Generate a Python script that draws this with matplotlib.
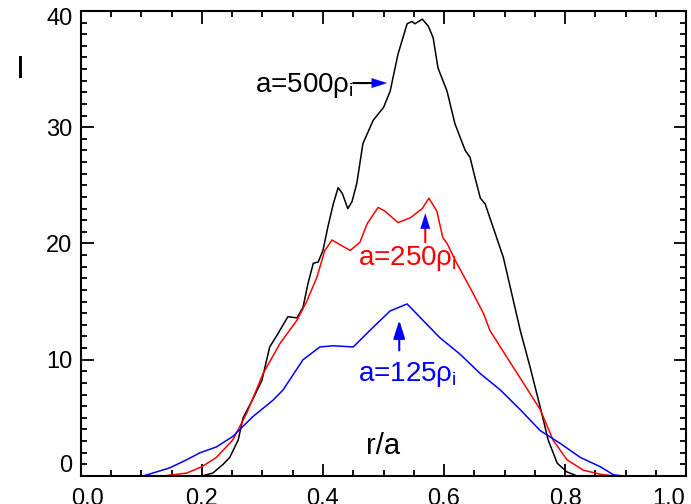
import matplotlib
matplotlib.use("Agg")
import matplotlib.pyplot as plt
from matplotlib.ticker import MultipleLocator
from matplotlib.transforms import offset_copy

plt.rcParams['font.family'] = ['Liberation Sans', 'DejaVu Sans']
plt.rcParams['mathtext.fontset'] = 'custom'
plt.rcParams['mathtext.rm'] = 'Liberation Sans'
plt.rcParams['mathtext.it'] = 'Liberation Sans:italic'

# a = 500 rho_i
x500 = [0.20, 0.218, 0.235, 0.246, 0.26, 0.268, 0.283, 0.299, 0.312, 0.324, 0.342, 0.357,
        0.367, 0.375, 0.384, 0.392, 0.40, 0.408, 0.417, 0.425, 0.432, 0.441, 0.448, 0.456,
        0.466, 0.483, 0.50, 0.511, 0.524, 0.539, 0.547, 0.552, 0.564, 0.574, 0.582, 0.590,
        0.605, 0.618, 0.635, 0.643, 0.651, 0.66, 0.668, 0.681, 0.698, 0.714, 0.726, 0.742,
        0.759, 0.772, 0.787, 0.803, 0.82]
y500 = [0.0, 0.25, 1.0, 1.6, 3.1, 5.0, 6.5, 8.2, 11.1, 12.1, 13.7, 13.6,
        14.5, 16.5, 18.3, 18.4, 19.4, 21.4, 23.4, 24.8, 24.3, 23.0, 23.6, 25.2,
        28.6, 30.6, 31.7, 33.1, 36.3, 38.9, 39.1, 38.9, 39.3, 38.7, 37.7, 35.1,
        33.1, 30.3, 28.0, 27.4, 25.7, 23.9, 23.4, 21.4, 18.8, 15.2, 12.5, 9.4,
        5.9, 3.1, 1.1, 0.35, 0.0]

# a = 250 rho_i
x250 = [0.136, 0.175, 0.20, 0.224, 0.251, 0.274, 0.301, 0.329, 0.357, 0.373, 0.39, 0.403,
        0.415, 0.428, 0.445, 0.461, 0.473, 0.491, 0.502, 0.524, 0.544, 0.564, 0.575, 0.588,
        0.598, 0.605, 0.621, 0.643, 0.665, 0.676, 0.704, 0.731, 0.759, 0.780, 0.803, 0.83,
        0.858, 0.88]
y250 = [0.0, 0.25, 0.8, 1.6, 3.1, 5.4, 8.8, 11.4, 13.4, 15.0, 17.1, 19.4,
        20.3, 19.9, 19.4, 20.1, 21.7, 23.1, 22.8, 21.8, 22.2, 23.0, 23.9, 22.8,
        20.5, 20.0, 18.3, 16.2, 14.0, 12.5, 10.2, 8.0, 5.7, 3.1, 1.4, 0.5,
        0.15, 0.0]

# a = 125 rho_i
x125 = [0.103, 0.147, 0.175, 0.197, 0.224, 0.251, 0.284, 0.317, 0.334, 0.367, 0.395, 0.417,
        0.45, 0.483, 0.511, 0.539, 0.565, 0.593, 0.626, 0.66, 0.693, 0.726, 0.759, 0.792,
        0.825, 0.858, 0.88, 0.896]
y125 = [0.0, 0.7, 1.4, 2.0, 2.5, 3.4, 5.1, 6.5, 7.4, 10.0, 11.1, 11.2,
        11.1, 12.8, 14.2, 14.8, 13.4, 11.9, 10.5, 8.8, 7.4, 5.7, 3.9, 2.8,
        1.6, 0.8, 0.1, 0.0]

xticks = [0.0, 0.2, 0.4, 0.6, 0.8, 1.0]
xlabels = ['0.0', '0.2', '0.4', '0.6', '0.8', '1.0']
yticks = [0, 10, 20, 30, 40]
ylabels = ['0', '10', '20', '30', '40']

fig = plt.figure(figsize=(6.91, 5.04), dpi=100)
ax = fig.add_axes([0.117, 0.0556, 0.876, 0.9226])

for xs, ys, c in [(x500, y500, 'black'), (x250, y250, 'red'), (x125, y125, 'blue')]:
    ax.plot(xs, ys, color=c, lw=1.1, solid_joinstyle='round')

ax.set_xlim(0, 1)
ax.set_ylim(0, 40)
ax.set_xticks(xticks)
ax.set_yticks(yticks)
ax.xaxis.set_minor_locator(MultipleLocator(0.05))
ax.yaxis.set_minor_locator(MultipleLocator(1))
# end labels are nudged inwards like in the original, so draw those by hand
ax.set_xticklabels([''] + xlabels[1:-1] + [''])
ax.set_yticklabels([''] + ylabels[1:-1] + [''])
ax.tick_params(which='both', direction='in', top=True, right=True, width=1.3, labelsize=17)
ax.tick_params(which='major', length=9)
ax.tick_params(which='minor', length=4)
ax.tick_params(axis='x', pad=8.5)
ax.tick_params(axis='y', pad=6)
for s in ax.spines.values():
    s.set_linewidth(1.5)

t = offset_copy(ax.transData, fig=fig, x=4.5, y=-8.5, units='points')
ax.text(xticks[0], 0, xlabels[0], transform=t, fontsize=17, ha='center', va='top')
t = offset_copy(ax.transData, fig=fig, x=-1, y=-8.5, units='points')
ax.text(xticks[-1], 0, xlabels[-1], transform=t, fontsize=17, ha='right', va='top')
t = offset_copy(ax.transData, fig=fig, x=-6, y=7, units='points')
ax.text(0, yticks[0], ylabels[0], transform=t, fontsize=17, ha='right', va='center')
t = offset_copy(ax.transData, fig=fig, x=-6, y=-6, units='points')
ax.text(0, yticks[-1], ylabels[-1], transform=t, fontsize=17, ha='right', va='center')

fig.text(0.030, 0.861, 'I', fontsize=23, ha='center', va='center')
ax.text(0.50, 2.6, 'r/a', fontsize=21, ha='center', va='center')

ax.text(0.288, 33.6, 'a=500ρ$_{\\rm i}$', fontsize=20, color='black', ha='left', va='center')
ax.text(0.458, 18.7, 'a=250ρ$_{\\rm i}$', fontsize=20, color='red', ha='left', va='center')
ax.text(0.458, 8.7, 'a=125ρ$_{\\rm i}$', fontsize=20, color='blue', ha='left', va='center')

# arrows: shafts and blue heads
head = '-|>,head_length=1.1,head_width=0.35'
ax.annotate('', xy=(0.485, 33.8), xytext=(0.45, 33.8),
            arrowprops=dict(arrowstyle='-', color='black', lw=1.5, shrinkA=0, shrinkB=0))
ax.annotate('', xy=(0.506, 33.8), xytext=(0.48, 33.8),
            arrowprops=dict(arrowstyle=head, color='blue', lw=0.1, shrinkA=0, shrinkB=0))

ax.annotate('', xy=(0.569, 21.6), xytext=(0.569, 20.1),
            arrowprops=dict(arrowstyle='-', color='red', lw=1.5, shrinkA=0, shrinkB=0))
ax.annotate('', xy=(0.569, 22.6), xytext=(0.569, 21.3),
            arrowprops=dict(arrowstyle=head, color='blue', lw=0.1, shrinkA=0, shrinkB=0))

ax.annotate('', xy=(0.526, 13.4), xytext=(0.526, 10.8),
            arrowprops=dict(arrowstyle=head, color='blue', lw=1.5, shrinkA=0, shrinkB=0))

fig.savefig('out.png', dpi=100)
